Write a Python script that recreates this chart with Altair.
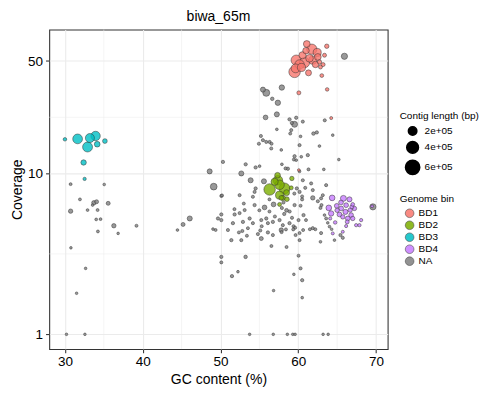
import altair as alt
import pandas as pd

# ---------------- data ----------------
bins = ["BD1", "BD2", "BD3", "BD4", "NA"]
bin_colors = ["#F8766D", "#7CAE00", "#00BFC4", "#C77CFF", "#7F7F7F"]

x_ticks = [30, 40, 50, 60, 70]
x_minor = [35, 45, 55, 65]
y_ticks = [1, 10, 50]
y_minor = [3.162, 22.36]
size_values = [200000, 400000, 600000]
size_labels = ["2e+05", "4e+05", "6e+05"]

gc_bd1 = [61.10, 61.75, 63.67, 59.74, 60.81, 61.87, 62.52, 62.44, 63.38, 62.73, 59.53, 61.32, 62.86,
          63.03, 63.72, 60.08, 64.24, 60.08, 60.55, 60.17, 61.45, 62.22, 59.66, 60.42, 61.00, 63.20]
cov_bd1 = [63.8, 59.2, 61.8, 50.6, 48.9, 50.6, 53.0, 56.5, 54.3, 49.3, 42.8, 42.2, 45.9,
           40.6, 33.3, 31.7, 22.1, 10.5, 54.3, 47.6, 52.0, 47.6, 45.0, 45.6, 58.0, 47.5]
len_bd1 = [120e3, 300e3, 40e3, 300e3, 300e3, 180e3, 120e3, 180e3, 30e3, 40e3, 380e3, 90e3, 30e3,
           25e3, 20e3, 30e3, 10e3, 5e3, 140e3, 250e3, 160e3, 110e3, 220e3, 180e3, 110e3, 30e3]

gc_bd2 = [57.38, 56.32, 58.24, 57.60, 59.18, 58.54, 57.60, 58.03, 57.82, 56.96, 57.60, 58.50, 57.34, 59.10]
cov_bd2 = [9.07, 7.95, 8.07, 7.33, 9.31, 6.92, 6.42, 7.05, 7.05, 8.87, 8.50, 7.60, 9.75, 8.14]
len_bd2 = [260e3, 380e3, 340e3, 180e3, 40e3, 50e3, 30e3, 60e3, 50e3, 140e3, 260e3, 90e3, 80e3, 30e3]

gc_bd3 = [30.00, 31.63, 33.21, 33.94, 32.91, 34.15, 35.14, 32.40, 32.53]
cov_bd3 = [16.3, 16.4, 16.6, 17.1, 14.6, 15.2, 15.9, 11.7, 9.25]
len_bd3 = [20e3, 270e3, 230e3, 250e3, 280e3, 80e3, 50e3, 70e3, 15e3]

gc_bd4 = [64.36, 65.81, 66.59, 64.95, 63.93, 66.16, 67.01, 64.23, 65.30, 66.07, 66.80, 67.01, 66.37,
          65.73, 68.09, 67.45, 67.87, 66.16, 64.75, 64.11, 65.73, 64.44, 67.23, 65.52, 66.68, 69.50,
          65.50, 66.30, 65.00, 66.90]
cov_bd4 = [7.05, 7.00, 6.90, 6.29, 6.11, 6.35, 6.42, 5.64, 5.56, 5.77, 5.51, 5.25, 5.25,
           5.37, 5.13, 4.77, 4.77, 4.71, 4.96, 5.25, 4.34, 4.24, 6.06, 6.06, 5.92, 6.25,
           6.60, 5.00, 5.90, 6.20]
len_bd4 = [80e3, 90e3, 60e3, 50e3, 80e3, 50e3, 25e3, 70e3, 50e3, 60e3, 50e3, 40e3, 50e3,
           40e3, 15e3, 15e3, 15e3, 12e3, 20e3, 12e3, 10e3, 10e3, 40e3, 50e3, 40e3, 8e3,
           50e3, 30e3, 40e3, 30e3]

gc_na = [
    65.94, 55.46, 55.89, 57.89, 56.66, 57.38, 55.80, 57.25, 58.88, 59.74,
    59.53, 59.18, 60.59, 63.41, 59.10, 58.97, 57.25, 61.96, 62.39, 60.30,
    62.73, 60.17, 55.20, 54.94, 55.46, 55.89, 56.32, 56.57, 56.53, 57.82,
    59.53, 59.44, 60.39, 61.23, 53.24, 54.52, 57.90, 58.67, 61.32, 65.22,
    64.44, 50.32, 55.03, 48.61, 52.68, 49.13, 53.88, 58.37, 59.74, 60.17,
    63.29, 60.59, 61.66, 63.59, 59.82, 60.90, 61.87, 60.17, 63.16, 62.94,
    61.87, 62.52, 62.99, 62.86, 59.53, 60.68, 60.04, 61.00, 59.40, 59.60,
    61.87, 62.20, 61.50, 63.38, 63.59, 63.80, 62.94, 64.02, 64.30, 65.73,
    65.43, 64.66, 62.86, 69.60,
    50.11, 52.46, 54.17, 54.52, 55.59, 55.67, 56.83, 54.39, 53.11, 52.46,
    51.82, 50.11, 49.68, 50.11, 51.60, 52.89, 53.75, 54.17, 55.25, 55.89,
    56.10, 56.74, 57.60, 58.02, 58.88, 49.04, 49.38, 50.96, 52.37, 52.81,
    53.53, 54.81, 55.12, 56.10, 56.74, 57.82, 51.40, 52.68, 55.25, 57.86,
    58.42, 59.36, 60.17, 60.63, 59.66, 56.55, 58.50, 60.17, 54.39, 50.20,
    57.00, 58.20, 58.90, 59.20, 58.50, 57.90, 56.30, 55.00, 56.30, 53.00,
    51.80, 58.10, 60.30, 60.50, 59.50, 60.50, 55.30, 53.40,
    50.11, 50.11, 53.23, 51.48, 52.25, 60.04, 60.30, 60.51, 59.44, 56.83, 60.51,
    30.20, 32.57, 53.75, 56.79, 58.60, 59.30, 59.60, 63.20, 63.85,
    30.73, 35.05, 31.93, 33.72, 34.07, 33.56, 35.56, 30.73, 32.91, 34.20,
    34.02, 34.58, 36.29, 39.20, 34.24, 36.84, 30.77, 32.66, 31.50, 44.47,
    45.19, 46.05,
]
cov_na = [
    53.5, 33.2, 31.7, 34.2, 29.1, 27.5, 22.3, 23.3, 21.7, 22.2,
    20.2, 20.6, 21.0, 21.4, 18.6, 17.7, 18.8, 17.7, 18.0, 17.0,
    14.8, 15.0, 17.1, 15.3, 16.1, 15.7, 15.7, 15.3, 14.3, 14.0,
    12.8, 12.2, 12.7, 13.0, 11.4, 10.9, 11.4, 10.7, 10.6, 12.2,
    17.3, 11.8, 11.1, 10.3, 10.0, 8.28, 9.07, 10.75, 12.1, 10.3,
    10.6, 9.07, 8.67, 8.46, 8.07, 8.14, 7.88, 7.68, 7.33, 7.00,
    7.05, 6.72, 6.36, 6.11, 6.36, 5.51, 5.13, 5.13, 4.70, 4.60,
    4.57, 4.50, 4.50, 5.51, 5.25, 4.93, 4.26, 4.67, 4.50, 3.98,
    4.14, 3.85, 3.76, 6.20,
    7.25, 7.33, 7.16, 8.07, 8.94, 6.15, 6.42, 6.36, 5.92, 5.67,
    5.56, 5.56, 5.25, 5.13, 4.91, 5.00, 5.25, 4.91, 5.13, 5.25,
    4.91, 5.00, 5.13, 4.77, 4.91, 4.51, 4.45, 4.45, 4.30, 4.39,
    4.57, 4.20, 4.42, 4.30, 4.14, 4.45, 3.85, 3.85, 3.94, 4.32,
    4.49, 4.49, 4.26, 4.45, 4.14, 3.54, 3.49, 3.85, 7.68, 7.30,
    5.40, 5.60, 5.80, 5.30, 5.90, 6.10, 5.80, 5.90, 6.90, 6.50,
    6.00, 6.60, 6.30, 6.90, 7.50, 7.20, 4.70, 4.10,
    3.03, 2.80, 3.03, 2.30, 2.45, 3.08, 2.57, 2.17, 2.36, 1.87, 1.69,
    1.0, 1.0, 1.0, 1.0, 1.0, 1.0, 1.0, 1.0, 1.0,
    8.58, 8.54, 6.90, 6.57, 6.67, 6.36, 6.52, 5.83, 5.92, 5.92,
    5.18, 5.20, 4.73, 4.73, 4.36, 4.24, 3.45, 2.57, 1.80, 4.45,
    4.82, 5.25,
]
len_na = [
    100e3, 60e3, 130e3, 70e3, 20e3, 70e3, 50e3, 60e3, 15e3, 15e3,
    90e3, 15e3, 12e3, 12e3, 12e3, 10e3, 5e3, 20e3, 15e3, 5e3,
    5e3, 12e3, 12e3, 12e3, 12e3, 12e3, 12e3, 10e3, 12e3, 5e3,
    15e3, 10e3, 5e3, 15e3, 15e3, 15e3, 5e3, 15e3, 10e3, 4e3,
    4e3, 15e3, 5e3, 60e3, 60e3, 120e3, 60e3, 12e3, 5e3, 5e3,
    5e3, 12e3, 12e3, 12e3, 15e3, 12e3, 12e3, 15e3, 10e3, 12e3,
    40e3, 12e3, 12e3, 12e3, 15e3, 15e3, 12e3, 10e3, 12e3, 12e3,
    12e3, 10e3, 10e3, 4e3, 10e3, 4e3, 12e3, 4e3, 4e3, 12e3,
    15e3, 4e3, 5e3, 100e3,
    12e3, 12e3, 12e3, 15e3, 60e3, 50e3, 50e3, 15e3, 12e3, 12e3,
    15e3, 15e3, 15e3, 15e3, 15e3, 15e3, 15e3, 12e3, 12e3, 15e3,
    12e3, 15e3, 15e3, 12e3, 15e3, 5e3, 8e3, 12e3, 10e3, 12e3,
    10e3, 12e3, 12e3, 15e3, 12e3, 40e3, 15e3, 12e3, 30e3, 12e3,
    10e3, 10e3, 10e3, 10e3, 10e3, 10e3, 10e3, 10e3, 12e3, 10e3,
    12e3, 15e3, 12e3, 12e3, 25e3, 12e3, 10e3, 10e3, 10e3, 10e3,
    10e3, 12e3, 10e3, 12e3, 12e3, 10e3, 10e3, 10e3,
    15e3, 10e3, 20e3, 15e3, 4e3, 10e3, 12e3, 15e3, 4e3, 3e3, 5e3,
    3e3, 3e3, 3e3, 3e3, 3e3, 3e3, 3e3, 3e3, 3e3,
    8e3, 4e3, 8e3, 40e3, 30e3, 4e3, 30e3, 40e3, 6e3, 8e3,
    6e3, 6e3, 40e3, 10e3, 8e3, 3e3, 3e3, 3e3, 3e3, 4e3,
    30e3, 60e3,
]

# ---------------- table ----------------
groups = [
    ("NA", gc_na, cov_na, len_na),
    ("BD3", gc_bd3, cov_bd3, len_bd3),
    ("BD4", gc_bd4, cov_bd4, len_bd4),
    ("BD2", gc_bd2, cov_bd2, len_bd2),
    ("BD1", gc_bd1, cov_bd1, len_bd1),
]
frames = []
for order, (name, g, c, l) in enumerate(groups):
    n = min(len(g), len(c), len(l))
    d = pd.DataFrame({"gc": g[:n], "cov": c[:n], "length": l[:n], "bin": name, "grp": order})
    frames.append(d)
df = pd.concat(frames, ignore_index=True)
df = df.sort_values(["grp", "length"], ascending=[True, False]).reset_index(drop=True)

FONT = "Liberation Sans"
x_scale = alt.Scale(domain=[27.98, 71.5], nice=False, zero=False)
y_scale = alt.Scale(type="log", domain=[0.81, 78.4], nice=False)

x_axis = alt.Axis(values=x_ticks, title="GC content (%)", format="d")
y_axis = alt.Axis(values=y_ticks, title="Coverage", format="d")

minor_x = alt.Chart(pd.DataFrame({"v": x_minor})).mark_rule(
    color="#EBEBEB", strokeWidth=0.55
).encode(x=alt.X("v:Q", scale=x_scale, axis=x_axis, title="GC content (%)"))

minor_y = alt.Chart(pd.DataFrame({"v": y_minor})).mark_rule(
    color="#EBEBEB", strokeWidth=0.55
).encode(y=alt.Y("v:Q", scale=y_scale, axis=y_axis, title="Coverage"))

label_expr = " : ".join(
    f"datum.value == {v} ? '{s}'" for v, s in zip(size_values, size_labels)
) + " : ''"

points = alt.Chart(df).mark_circle(
    stroke="#333333", strokeWidth=0.5, opacity=1, fillOpacity=0.8
).encode(
    x=alt.X("gc:Q", scale=x_scale, axis=x_axis, title="GC content (%)"),
    y=alt.Y("cov:Q", scale=y_scale, axis=y_axis, title="Coverage"),
    size=alt.Size("length:Q",
                  scale=alt.Scale(domain=[0, 600000], range=[6, 205], zero=True),
                  legend=alt.Legend(title="Contig length (bp)", values=size_values,
                                    labelExpr=label_expr, orient="none",
                                    legendX=351, legendY=82,
                                    symbolFillColor="black", symbolStrokeColor="black",
                                    symbolOpacity=1, symbolOffset=5, labelOffset=4,
                                    rowPadding=0)),
    color=alt.Color("bin:N", scale=alt.Scale(domain=bins, range=bin_colors),
                    legend=alt.Legend(title="Genome bin", orient="none",
                                      legendX=351, legendY=165,
                                      symbolSize=75, symbolStrokeColor="#333333",
                                      symbolStrokeWidth=0.6, symbolOpacity=0.85,
                                      symbolOffset=5, labelOffset=4, rowPadding=0,
                                      symbolType="circle")),
)

chart = alt.layer(minor_x, minor_y, points).properties(
    width=339,
    height=320,
    autosize=alt.AutoSizeParams(type="none"),
    padding={"left": 41.3, "top": 21.3, "right": 92.5, "bottom": 44},
    title=alt.TitleParams("biwa_65m", font=FONT, fontSize=14, fontWeight="normal",
                          anchor="middle", offset=5, color="black"),
).configure_view(
    stroke="#333333", strokeWidth=1.07
).configure_axis(
    domain=False,
    grid=True,
    gridColor="#EBEBEB",
    gridWidth=1.07,
    tickColor="#333333",
    tickSize=3.7,
    tickWidth=1.07,
    labelFont=FONT,
    labelFontSize=13.5,
    labelColor="black",
    titleFont=FONT,
    titleFontSize=14,
    titleFontWeight="normal",
    titleColor="black",
).configure_axisX(
    labelPadding=2, titlePadding=4
).configure_axisY(
    labelPadding=3, titlePadding=3
).configure_legend(
    titleFont=FONT, titleFontSize=10, titleFontWeight="normal", titleColor="black",
    labelFont=FONT, labelFontSize=10, labelColor="black", titlePadding=4
)

chart.save("out.html", embed_options={"renderer": "svg", "actions": False})
